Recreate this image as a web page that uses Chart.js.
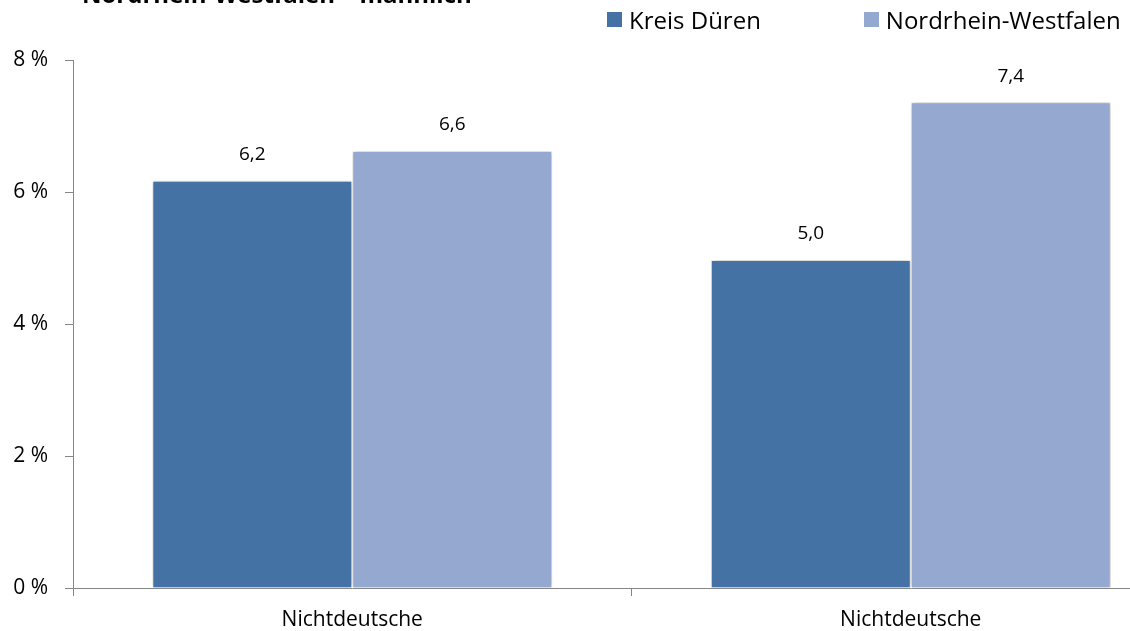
<!DOCTYPE html>
<html>
<head>
<meta charset="utf-8">
<script src="https://cdn.jsdelivr.net/npm/chart.js@4.4.0/dist/chart.umd.min.js"></script>
<style>
  html, body { margin:0; padding:0; background:#fff; overflow:hidden; }
  #wrap { position:relative; width:1200px; height:631px; }
  #legend { position:absolute; top:3px; left:607px; display:flex; font:24px/33px "Open Sans", sans-serif; color:#000; }
  .lg { display:flex; align-items:center; }
  .lg i { display:inline-block; width:15px; height:15px; margin-right:7px; }
</style>
</head>
<body>
<div id="wrap">
  <canvas id="c" width="1200" height="631"></canvas>
  <div id="legend"></div>
</div>
<script>
// ── data ──
const CATEGORIES = ['Nichtdeutsche', 'Nichtdeutsche'];
const SERIES_NAMES = ['Kreis Düren', 'Nordrhein-Westfalen'];
const KREIS_DUEREN = [6.17, 4.97];
const NRW = [6.62, 7.36];
const Y_TICKS = [0, 2, 4, 6, 8];
const TITLE = 'Nordrhein-Westfalen – männlich';

const COLORS = ['#4472A5', '#95A9D0'];
const FONT = '"Open Sans", sans-serif';

// legend (html)
document.getElementById('legend').innerHTML = SERIES_NAMES.map((n,i)=>
  `<span class="lg" style="margin-right:${i===0?103:0}px"><i style="background:${COLORS[i]}"></i>${n}</span>`).join('');

const shadowPlugin = {
  id:'bar-shadow',
  beforeDatasetsDraw(chart){
    const ctx = chart.ctx;
    ctx.save();
    ctx.shadowColor = 'rgba(0,0,0,0.3)';
    ctx.shadowBlur = 6;
    ctx.shadowOffsetX = 1;
    ctx.shadowOffsetY = 0;
  },
  afterDatasetsDraw(chart){ chart.ctx.restore(); }
};

const valueLabels = {
  id:'value-labels',
  afterDatasetsDraw(chart){
    const {ctx, data} = chart;
    ctx.save();
    ctx.fillStyle = '#000';
    ctx.font = '19px ' + FONT;
    ctx.textAlign = 'center';
    ctx.textBaseline = 'middle';
    data.datasets.forEach((ds, di) => {
      chart.getDatasetMeta(di).data.forEach((bar, i) => {
        ctx.fillText(ds.data[i].toFixed(1).replace('.', ','), bar.x, bar.y - 26);
      });
    });
    ctx.restore();
  }
};

const cutTitle = {
  id:'cut-title',
  afterDraw(chart){
    const ctx = chart.ctx;
    ctx.save();
    ctx.fillStyle = '#000';
    ctx.font = 'bold 24px ' + FONT;
    ctx.textAlign = 'left';
    ctx.textBaseline = 'alphabetic';
    ctx.fillText(TITLE, 82, 3);
    ctx.restore();
  }
};

new Chart(document.getElementById('c'), {
  type:'bar',
  data:{
    labels: CATEGORIES,
    datasets:[
      { label:SERIES_NAMES[0], data:KREIS_DUEREN, backgroundColor:COLORS[0], borderColor:'#fff', borderWidth:1 },
      { label:SERIES_NAMES[1], data:NRW, backgroundColor:COLORS[1], borderColor:'#fff', borderWidth:1 }
    ]
  },
  options:{
    responsive:false, animation:false,
    layout:{ padding:{ top:60, right:10, left:0, bottom:0 } },
    datasets:{ bar:{ categoryPercentage:0.716, barPercentage:1 } },
    plugins:{ legend:{ display:false }, tooltip:{ enabled:false } },
    scales:{
      x:{
        afterFit(axis){ axis.height = 43; },
        grid:{ display:true, drawOnChartArea:false, tickLength:8, color:'#868686', offset:true },
        border:{ color:'#868686', width:1 },
        ticks:{ color:'#000', font:{ family:FONT, size:21 }, padding:11 }
      },
      y:{
        min:0, max:8,
        afterFit(axis){ axis.width = 73; },
        afterBuildTicks(axis){ axis.ticks = Y_TICKS.map(v=>({value:v})); },
        grid:{ display:true, drawOnChartArea:false, tickLength:8, color:'#868686' },
        border:{ color:'#868686', width:1 },
        ticks:{ color:'#000', font:{ family:FONT, size:21 }, padding:17, callback:v=>v+' %' }
      }
    }
  },
  plugins:[shadowPlugin, valueLabels, cutTitle]
});
</script>
</body>
</html>
